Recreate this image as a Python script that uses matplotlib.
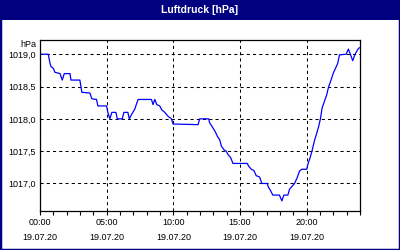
import matplotlib
matplotlib.use("Agg")
import matplotlib.pyplot as plt
from matplotlib.patches import Rectangle
from matplotlib.ticker import MultipleLocator

# Luftdruck 19.07.20, Stunden seit 00:00
hours = [0.0, 0.62, 0.75, 0.82, 1.0, 1.12, 1.5, 1.67, 1.82, 2.25, 2.32, 2.99,
         3.14, 3.74, 3.89, 4.24, 4.34, 4.99, 5.09, 5.24, 5.39, 5.69, 5.8, 6.17,
         6.29, 6.59, 6.7, 6.77, 6.96, 7.11, 7.22, 7.36, 8.36, 8.48, 8.61, 8.76,
         8.98, 9.13, 9.36, 9.6, 9.86, 9.98, 11.85, 11.98, 12.65, 12.72, 12.97,
         13.15, 13.3, 13.47, 13.6, 13.8, 13.97, 14.09, 14.3, 14.47, 15.55,
         15.64, 15.85, 16.04, 16.22, 16.47, 16.64, 17.04, 17.14, 17.29, 17.46,
         17.96, 18.14, 18.29, 18.59, 18.71, 18.88, 19.09, 19.29, 19.46, 19.63,
         20.01, 20.08, 20.26, 20.41, 20.58, 20.76, 20.91, 21.03, 21.16, 21.33,
         21.5, 21.65, 21.83, 22.0, 22.16, 22.33, 22.46, 22.96, 23.13, 23.28,
         23.45, 23.63, 23.82, 23.95]
pressure = [1019.0, 1019.0, 1018.86, 1018.81, 1018.78, 1018.72, 1018.7, 1018.6,
            1018.7, 1018.7, 1018.6, 1018.6, 1018.41, 1018.4, 1018.31, 1018.3,
            1018.2, 1018.2, 1018.1, 1018.0, 1018.1, 1018.1, 1018.0, 1018.0,
            1018.1, 1018.1, 1018.0, 1018.03, 1018.1, 1018.15, 1018.22, 1018.3,
            1018.3, 1018.22, 1018.3, 1018.22, 1018.2, 1018.14, 1018.1, 1018.04,
            1018.0, 1017.92, 1017.91, 1018.0, 1018.0, 1017.94, 1017.86, 1017.8,
            1017.73, 1017.68, 1017.58, 1017.52, 1017.5, 1017.45, 1017.4, 1017.31,
            1017.31, 1017.27, 1017.22, 1017.2, 1017.12, 1017.1, 1017.0, 1017.0,
            1016.94, 1016.89, 1016.82, 1016.82, 1016.73, 1016.82, 1016.82,
            1016.91, 1016.95, 1017.0, 1017.09, 1017.19, 1017.22, 1017.22,
            1017.29, 1017.4, 1017.51, 1017.66, 1017.78, 1017.89, 1018.0, 1018.17,
            1018.27, 1018.37, 1018.5, 1018.6, 1018.71, 1018.78, 1018.86, 1018.99,
            1019.0, 1019.08, 1019.0, 1018.9, 1019.0, 1019.07, 1019.1]

x_ticks = [0, 5, 10, 15, 20]
x_labels = ["00:00\n19.07.20", "05:00\n19.07.20", "10:00\n19.07.20",
            "15:00\n19.07.20", "20:00\n19.07.20"]
y_ticks = [1017.0, 1017.5, 1018.0, 1018.5, 1019.0]
y_labels = ["1017,0", "1017,5", "1018,0", "1018,5", "1019,0"]

plt.rcParams['font.family'] = ['Liberation Sans', 'DejaVu Sans']
navy = '#000080'

fig = plt.figure(figsize=(4, 2.5), dpi=100)
fig.patch.set_facecolor('white')

# Titelleiste und Rahmen
fig.patches.append(Rectangle((0, 0.92), 1, 0.08, transform=fig.transFigure,
                             facecolor=navy, edgecolor='none', zorder=0))
fig.patches.append(Rectangle((0, 0), 1, 1, transform=fig.transFigure,
                             facecolor='none', edgecolor=navy, lw=2.5, zorder=0))
fig.text(0.5, 0.96, "Luftdruck [hPa]", color='white', fontweight='bold',
         fontsize=7.5, ha='center', va='center')

ax = fig.add_axes([0.1, 0.156, 0.8, 0.684])
ax.plot(hours, pressure, color='#0000ff', lw=0.9)

ax.set_xlim(0, 24)
ax.set_ylim(1016.574, 1019.22)
ax.set_xticks(x_ticks)
ax.set_xticklabels(x_labels, fontsize=6.5, linespacing=1.9)
ax.xaxis.set_minor_locator(MultipleLocator(1))
ax.set_yticks(y_ticks)
ax.set_yticklabels(y_labels, fontsize=6.5)
ax.tick_params(axis='x', which='both', length=3, width=0.8, pad=2, direction='out')
ax.tick_params(axis='y', length=0, pad=3)

ax.grid(True, which='major', color='black', lw=0.75, linestyle=(0, (3, 3)))
for s in ax.spines.values():
    s.set_color('black')
    s.set_linewidth(0.9)

fig.text(0.09, 0.823, "hPa", fontsize=6.5, ha='right', va='center')

fig.savefig("out.png", dpi=100, facecolor='white')
